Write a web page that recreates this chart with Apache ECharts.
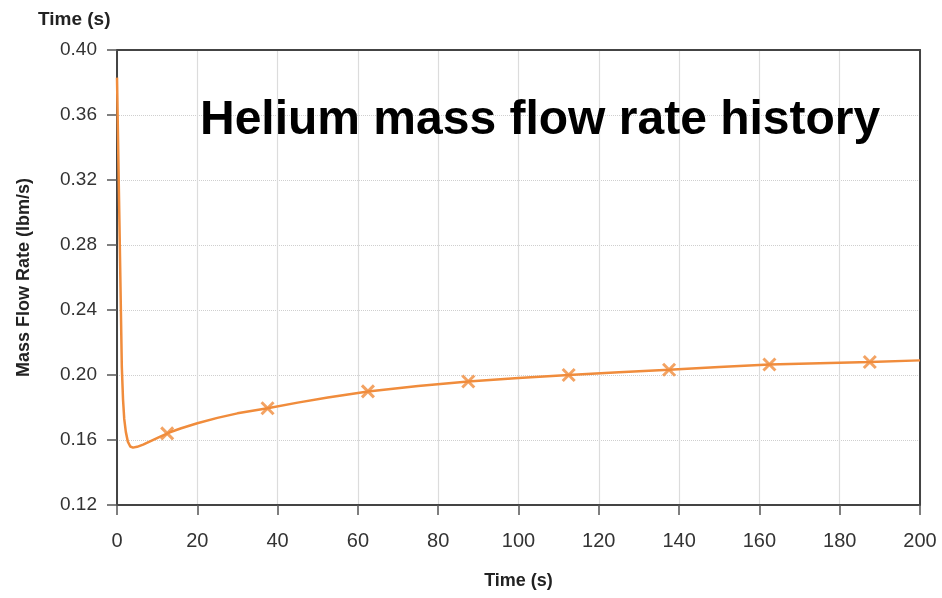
<!DOCTYPE html>
<html>
<head>
<meta charset="utf-8">
<script src="https://cdn.jsdelivr.net/npm/echarts@6/dist/echarts.min.js"></script>
<style>html,body{margin:0;padding:0;background:#fff;}#c{width:942px;height:598px;}</style>
</head>
<body>
<div id="c"></div>
<script>
// Data
var curveTimes  = [0, 0.6, 1.2, 1.5, 1.8, 2.2, 2.7, 3.3, 4.0, 5.0, 6.5, 8.5, 10.5, 13, 16, 20, 25, 30, 37.5, 45, 52.5, 62.5, 75, 87.5, 100, 112.5, 125, 137.5, 150, 162.5, 175, 187.5, 200];
var curveValues = [0.383, 0.295, 0.205, 0.185, 0.173, 0.165, 0.159, 0.156, 0.1553, 0.1558, 0.1572, 0.1595, 0.1618, 0.1646, 0.1672, 0.1703, 0.1736, 0.1764, 0.1795, 0.1830, 0.1862, 0.1899, 0.1933, 0.1960, 0.1982, 0.2000, 0.2017, 0.2032, 0.2049, 0.2065, 0.2073, 0.2080, 0.2090];
var markerTimes  = [12.5, 37.5, 62.5, 87.5, 112.5, 137.5, 162.5, 187.5];
var markerValues = [0.1641, 0.1795, 0.1899, 0.1960, 0.2000, 0.2032, 0.2065, 0.2080];
var xTicks = [0, 20, 40, 60, 80, 100, 120, 140, 160, 180, 200];
var yTicks = [0.12, 0.16, 0.20, 0.24, 0.28, 0.32, 0.36, 0.40];

var orange = '#F08C3C';
var font = 'Liberation Sans, Arial, sans-serif';
var frame = '#444';

var chart = echarts.init(document.getElementById('c'));
chart.setOption({
  animation: false,
  title: [
    {text: 'Helium mass flow rate history', left: 195, top: 92,
     textStyle: {fontFamily: font, fontSize: 48, fontWeight: 'bold', color: '#000'}},
    {text: 'Time (s)', left: 33, top: 5,
     textStyle: {fontFamily: font, fontSize: 19, fontWeight: 'bold', color: '#222'}}
  ],
  grid: {left: 117, right: 22, top: 50, bottom: 93},
  xAxis: [{
    type: 'value', min: 0, max: 200, interval: 20,
    name: 'Time (s)', nameLocation: 'middle', nameGap: 67,
    nameTextStyle: {fontFamily: font, fontSize: 18, fontWeight: 'bold', color: '#222'},
    axisLine: {lineStyle: {color: frame, width: 2}},
    axisTick: {show: true, length: 10, lineStyle: {color: '#555', width: 1.5}},
    axisLabel: {fontFamily: font, fontSize: 20, color: '#333', margin: 26,
      formatter: function (v) { return xTicks.indexOf(v) >= 0 ? String(v) : ''; }},
    splitLine: {show: true, lineStyle: {color: '#dcdcdc', width: 1.2, type: 'solid'}}
  }, {
    type: 'value', min: 0, max: 200, position: 'top',
    axisLine: {show: true, onZero: false, lineStyle: {color: frame, width: 2}},
    axisTick: {show: false}, axisLabel: {show: false}, splitLine: {show: false}
  }],
  yAxis: [{
    type: 'value', min: 0.12, max: 0.40, interval: 0.04,
    name: 'Mass Flow Rate (lbm/s)', nameLocation: 'middle', nameGap: 84,
    nameTextStyle: {fontFamily: font, fontSize: 18, fontWeight: 'bold', color: '#222'},
    axisLine: {lineStyle: {color: frame, width: 2}},
    axisTick: {show: true, length: 10, lineStyle: {color: '#555', width: 1.5}},
    axisLabel: {fontFamily: font, fontSize: 19, color: '#333', margin: 20,
      formatter: function (v) { return yTicks.some(function (t) { return Math.abs(t - v) < 1e-9; }) ? v.toFixed(2) : ''; }},
    splitLine: {show: true, lineStyle: {color: '#cfcfcf', width: 1, type: 'dotted'}}
  }, {
    type: 'value', min: 0.12, max: 0.40, position: 'right',
    axisLine: {show: true, onZero: false, lineStyle: {color: frame, width: 2}},
    axisTick: {show: false}, axisLabel: {show: false}, splitLine: {show: false}
  }],
  series: [
    {
      type: 'line', showSymbol: false, smooth: false,
      data: curveTimes.map(function (t, i) { return [t, curveValues[i]]; }),
      lineStyle: {color: orange, width: 2.5}, z: 3
    },
    {
      type: 'scatter',
      symbol: 'path://M0,0L10,10M10,0L0,10', symbolSize: 12,
      data: markerTimes.map(function (t, i) { return [t, markerValues[i]]; }),
      itemStyle: {color: 'none', borderColor: orange, borderWidth: 3}, z: 4
    }
  ]
});
</script>
</body>
</html>
